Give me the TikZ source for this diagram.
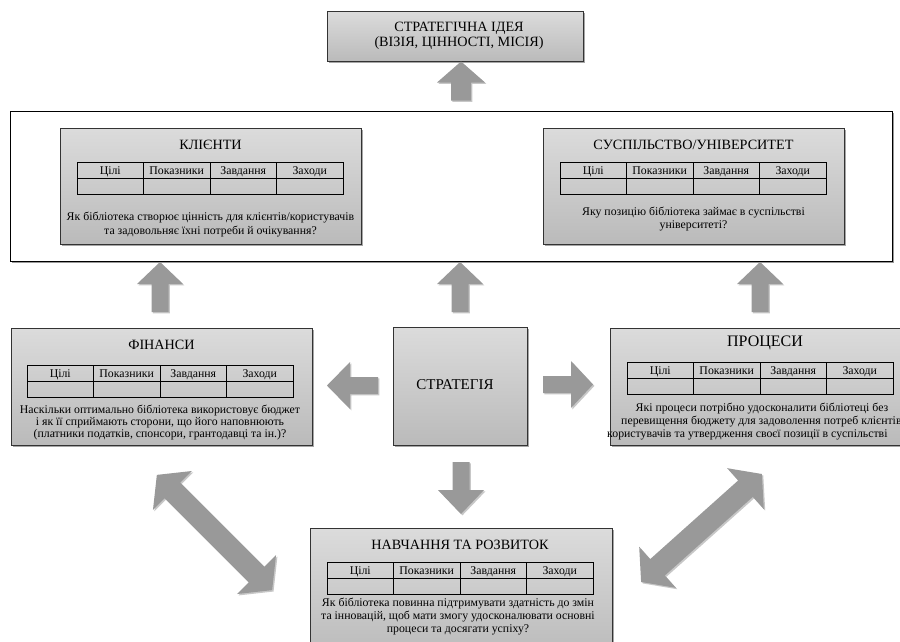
\documentclass[tikz,border=0pt]{standalone}
\usepackage{fontspec}
\setmainfont{Liberation Serif}
\usetikzlibrary{shadows}
\tikzset{
  panel/.style={draw=black!80, line width=0.8pt, top color=black!14, bottom color=black!27,
    drop shadow={shadow xshift=1.6pt, shadow yshift=-1.6pt, fill=black, opacity=0.35},
    inner sep=0pt, anchor=north west},
  frame/.style={draw=black, line width=0.9pt, fill=white,
    drop shadow={shadow xshift=1.2pt, shadow yshift=-1.2pt, fill=black, opacity=0.4},
    inner sep=0pt, anchor=north west},
  title/.style={font=\fontsize{14.2}{16}\selectfont, inner sep=0pt},
  hdr/.style={font=\fontsize{11.8}{12}\selectfont, inner sep=0pt, anchor=base},
  question/.style={font=\fontsize{11.8}{13}\selectfont, align=center, inner sep=0pt},
  tableline/.style={draw=black, line width=0.9pt},
  arrowfill/.style={fill=black!40},
  arrowshadow/.style={fill=black!22},
}
% single block arrow: cx, cy, angle, length, head length, head width, shaft width
\newcommand\blkarrow[7]{%
  \foreach \dx/\sty in {1.4/arrowshadow,0/arrowfill}{%
  \begin{scope}[shift={(#1+\dx,#2+\dx)},rotate=#3]
    \path[\sty] (#4/2,0) -- (#4/2-#5,#6/2) -- (#4/2-#5,#7/2) -- (-#4/2,#7/2)
      -- (-#4/2,-#7/2) -- (#4/2-#5,-#7/2) -- (#4/2-#5,-#6/2) -- cycle;
  \end{scope}}}
% double block arrow
\newcommand\dblarrow[7]{%
  \foreach \dx/\sty in {1.4/arrowshadow,0/arrowfill}{%
  \begin{scope}[shift={(#1+\dx,#2+\dx)},rotate=#3]
    \path[\sty] (#4/2,0) -- (#4/2-#5,#6/2) -- (#4/2-#5,#7/2) -- (-#4/2+#5,#7/2)
      -- (-#4/2+#5,#6/2) -- (-#4/2,0) -- (-#4/2+#5,-#6/2) -- (-#4/2+#5,-#7/2)
      -- (#4/2-#5,-#7/2) -- (#4/2-#5,-#6/2) -- cycle;
  \end{scope}}}
% goal table: top-left x, y
\newcommand\goaltable[2]{%
  \draw[tableline] (#1,#2) rectangle ++(266,32);
  \draw[tableline] (#1,#2+16) -- ++(266,0);
  \foreach \i in {1,2,3} \draw[tableline] (#1+\i*66.5,#2) -- ++(0,32);
  \foreach \t [count=\i from 0] in {Цілі,Показники,Завдання,Заходи}
    \node[hdr] at (#1+\i*66.5+33.25,#2+12) {\t};}
\begin{document}
\begin{tikzpicture}[x=1pt,y=-1pt]
\clip (0,0) rectangle (900,641);
\fill[white] (0,0) rectangle (900,641);

% top idea
\node[panel, minimum width=256pt, minimum height=50pt] (idea) at (327,11) {};
\node[font=\fontsize{14.2}{15}\selectfont, align=center, inner sep=0pt] (ideat) at (459,35.5)
  {СТРАТЕГІЧНА ІДЕЯ\\(ВІЗІЯ, ЦІННОСТІ, МІСІЯ)};

% big frame
\node[frame, minimum width=882pt, minimum height=150pt] (frame) at (10,111) {};

% clients
\node[panel, minimum width=301pt, minimum height=116pt] (clients) at (60,128) {};
\node[title] (clientst) at (210.5,145) {КЛІЄНТИ};
\goaltable{77}{162}
\node[question, font=\fontsize{11.8}{14}\selectfont] (clientsq) at (210.5,225)
  {Як бібліотека створює цінність для клієнтів/користувачів\\та задовольняє їхні потреби й очікування?};

% society
\node[panel, minimum width=301pt, minimum height=116pt] (society) at (543,128) {};
\node[title] (societyt) at (693.5,145) {СУСПІЛЬСТВО/УНІВЕРСИТЕТ};
\goaltable{560}{162}
\node[question] (societyq) at (693.5,219.5)
  {Яку позицію бібліотека займає в суспільстві\\університеті?};

% finance
\node[panel, minimum width=301pt, minimum height=117pt] (finance) at (11,328) {};
\node[title] (financet) at (161.5,345) {ФІНАНСИ};
\goaltable{27}{365}
\node[question, font=\fontsize{11.8}{11.6}\selectfont] (financeq) at (160,422.5)
  {Наскільки оптимально бібліотека використовує бюджет\\і як її сприймають сторони, що його наповнюють\\(платники податків, спонсори, грантодавці та ін.)?};

% strategy
\node[panel, minimum width=134pt, minimum height=118pt] (strategy) at (393,327) {};
\node[font=\fontsize{15}{17}\selectfont, inner sep=0pt] (strategyt) at (455,385) {СТРАТЕГІЯ};

% processes
\node[panel, minimum width=301pt, minimum height=117pt] (process) at (610,328) {};
\node[title, font=\fontsize{16}{17}\selectfont] (processt) at (765,343) {ПРОЦЕСИ};
\goaltable{627}{362}
\node[question, anchor=base] (processq1) at (762,411)
  {Які процеси потрібно удосконалити бібліотеці без};
\node[question, anchor=base west] (processq2) at (621,424)
  {перевищення бюджету для задоволення потреб клієнтів};
\node[question, anchor=base west] (processq3) at (607,437)
  {користувачів та утвердження своєї позиції в суспільстві};

% learning
\node[panel, minimum width=302pt, minimum height=130pt] (learning) at (310,528) {};
\node[title] (learningt) at (460,545) {НАВЧАННЯ ТА РОЗВИТОК};
\goaltable{327}{562}
\node[question] (learningq) at (458,617)
  {Як бібліотека повинна підтримувати здатність до змін\\та інновацій, щоб мати змогу удосконалювати основні\\процеси та досягати успіху?};

% arrows
\blkarrow{461}{81}{90}{39}{21}{48}{20}
\blkarrow{160}{287}{90}{50}{22}{46}{17}
\blkarrow{460}{287}{90}{50}{22}{46}{17}
\blkarrow{760}{287}{90}{50}{22}{46}{17}
\blkarrow{352.5}{385.5}{180}{51}{23}{47}{17}
\blkarrow{568}{384.5}{0}{50}{22}{47}{17}
\blkarrow{461}{488}{270}{52}{24}{46}{17}
\dblarrow{214.5}{532.5}{-45}{163}{22}{55}{22}
\dblarrow{701.5}{528}{41.8}{162}{22}{55}{22}
\end{tikzpicture}
\end{document}
